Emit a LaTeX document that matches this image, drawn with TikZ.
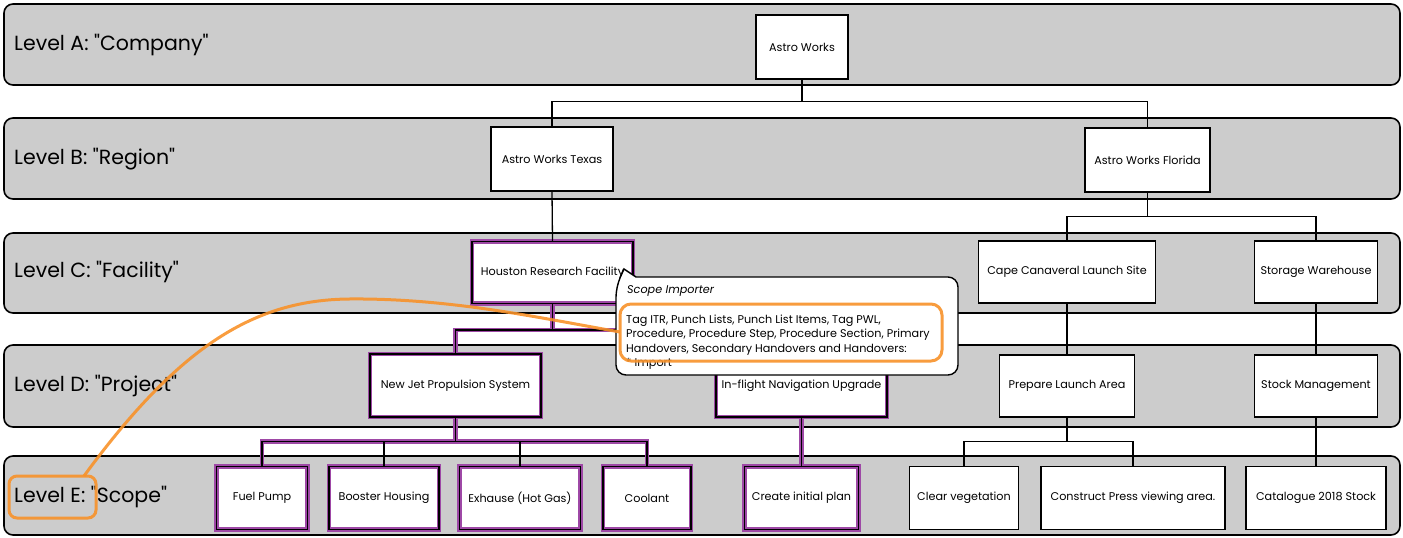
\documentclass[tikz,border=0pt]{standalone}
\usepackage{fontspec}
\setmainfont{Poppins}[Ligatures=TeXOff]
\usetikzlibrary{calc}
\definecolor{bandgray}{RGB}{204,204,204}
\definecolor{purp}{RGB}{158,72,166}
\definecolor{orng}{RGB}{248,146,42}
\newcommand{\dq}{\symbol{34}}
\begin{document}
\begin{tikzpicture}[x=1pt,y=-1pt,
  band/.style={draw=black, line width=1.6pt, fill=bandgray, rounded corners=9pt},
  lvl/.style={anchor=west, font=\fontsize{20.5}{23}\selectfont, inner sep=0pt},
  box/.style={draw=black, line width=1.5pt, fill=white, inner sep=2pt, font=\fontsize{11.2}{13}\selectfont, align=center},
  hbox/.style={box, draw=none, postaction={draw=purp, line width=4.5pt}, postaction={draw=black, line width=1.3pt}},
  conn/.style={draw=black, line width=1.3pt},
  hconn/.style={conn, preaction={draw=purp, line width=4.5pt}},
  hl/.style={draw=orng, line width=3pt, rounded corners=11pt, opacity=0.9},
  ctxt/.style={anchor=base west, inner sep=0pt, font=\fontsize{11.2}{13}\selectfont},
]
\useasboundingbox (0,0) rectangle (1403,538);
% bands
\path[band] (4,4) rectangle (1400,85);
\path[band] (4,118) rectangle (1400,199);
\path[band] (4,233) rectangle (1400,313);
\path[band] (4,345) rectangle (1400,427);
\path[band] (4,456) rectangle (1400,535);
% level labels
\node[lvl] (la) at (14,45) {Level A: \dq Company\dq};
\node[lvl] (lb) at (14,159) {Level B: \dq Region\dq};
\node[lvl] (lc) at (14,272) {Level C: \dq Facility\dq};
\node[lvl] (ld) at (14,386) {Level D: \dq Project\dq};
\node[lvl] (le) at (14,497) {Level E: \dq Scope\dq};
% boxes
\node[box, minimum width=92, minimum height=64] (aw) at (802,47) {Astro Works};
\node[box, minimum width=122, minimum height=64] (awt) at (552,159) {Astro Works Texas};
\node[box, minimum width=125, minimum height=64] (awf) at (1147.5,160) {Astro Works Florida};
\node[hbox, minimum width=161, minimum height=62] (hrf) at (552.5,272.5) {Houston Research Facility};
\node[box, minimum width=177, minimum height=62] (ccl) at (1067,272) {Cape Canaveral Launch Site};
\node[box, minimum width=123, minimum height=62] (sw) at (1316,272) {Storage Warehouse};
\node[hbox, minimum width=171, minimum height=63] (njp) at (455.5,385.5) {New Jet Propulsion System};
\node[hbox, minimum width=171, minimum height=63] (ifn) at (801.5,385.5) {In-flight Navigation Upgrade};
\node[box, minimum width=135, minimum height=62] (pla) at (1067,386) {Prepare Launch Area};
\node[box, minimum width=123, minimum height=62] (stm) at (1316,386) {Stock Management};
\node[hbox, minimum width=91, minimum height=63] (fp) at (262,498) {Fuel Pump};
\node[hbox, minimum width=110, minimum height=63] (bh) at (384,498) {Booster Housing};
\node[hbox, minimum width=121, minimum height=63] (ex) at (520,498) {Exhause (Hot Gas)};
\node[hbox, minimum width=88, minimum height=63] (co) at (647,498) {Coolant};
\node[hbox, minimum width=114, minimum height=63] (cip) at (801.5,498) {Create initial plan};
\node[box, minimum width=109, minimum height=63] (cv) at (964,498) {Clear vegetation};
\node[box, minimum width=184, minimum height=63] (cpv) at (1133,498) {Construct Press viewing area.};
\node[box, minimum width=140, minimum height=63] (cat) at (1316,498) {Catalogue 2018 Stock};
% buses
\coordinate (busA) at (0,101.5);
\coordinate (busC) at (0,216.5);
\coordinate (busD) at (0,330);
\coordinate (busE) at (0,441.5);
% connectors
\draw[conn] (awt.north) -- (awt.north |- busA) -- (awf.north |- busA) -- (awf.north)
            (aw.south) -- (aw.south |- busA);
\draw[conn] (awt.south) -- (hrf.north);
\draw[conn] (ccl.north) -- (ccl.north |- busC) -- (sw.north |- busC) -- (sw.north)
            (awf.south) -- (awf.south |- busC);
\draw[hconn] (njp.north) -- (njp.north |- busD) -- (ifn.north |- busD) -- (ifn.north)
             (hrf.south) -- (hrf.south |- busD);
\draw[conn] (ccl.south) -- (pla.north);
\draw[conn] (sw.south) -- (stm.north);
\draw[hconn] (fp.north) -- (fp.north |- busE) -- (co.north |- busE) -- (co.north)
             (njp.south) -- (njp.south |- busE);
\draw[conn] (bh.north) -- (bh.north |- busE) (ex.north) -- (ex.north |- busE);
\draw[hconn] (ifn.south) -- (cip.north);
\draw[conn] (cv.north) -- (cv.north |- busE) -- (cpv.north |- busE) -- (cpv.north)
            (pla.south) -- (pla.south |- busE);
\draw[conn] (stm.south) -- (cat.north);
% callout
\draw[fill=white, line width=1.4pt] (636,277) [rounded corners=10pt] -- (958,277) -- (958,375) -- (616,375) -- (616,287) [sharp corners] -- (624,269) -- cycle;
\node[ctxt] (ct0) at (627,293) {\textit{Scope Importer}};
\node[ctxt] (ct1) at (626,323) {Tag ITR, Punch Lists, Punch List Items, Tag PWL,};
\node[ctxt] (ct2) at (626,337.5) {Procedure, Procedure Step, Procedure Section, Primary};
\node[ctxt] (ct3) at (626,352) {Handovers, Secondary Handovers and Handovers:};
\node[ctxt] (ct4) at (626,366.5) {* Import};
% orange highlights
\draw[hl] (620,304) rectangle (942,361);
\draw[hl, rounded corners=8pt] (9,476) rectangle (96,518);
\coordinate (hlE) at (84,476);
\coordinate (hlC) at (620,332);
\draw[draw=orng, line width=3pt, opacity=0.9] (hlE) .. controls (180,345) and (255,300) .. (349,299) .. controls (450,298) and (540,318) .. (hlC);
\end{tikzpicture}
\end{document}
